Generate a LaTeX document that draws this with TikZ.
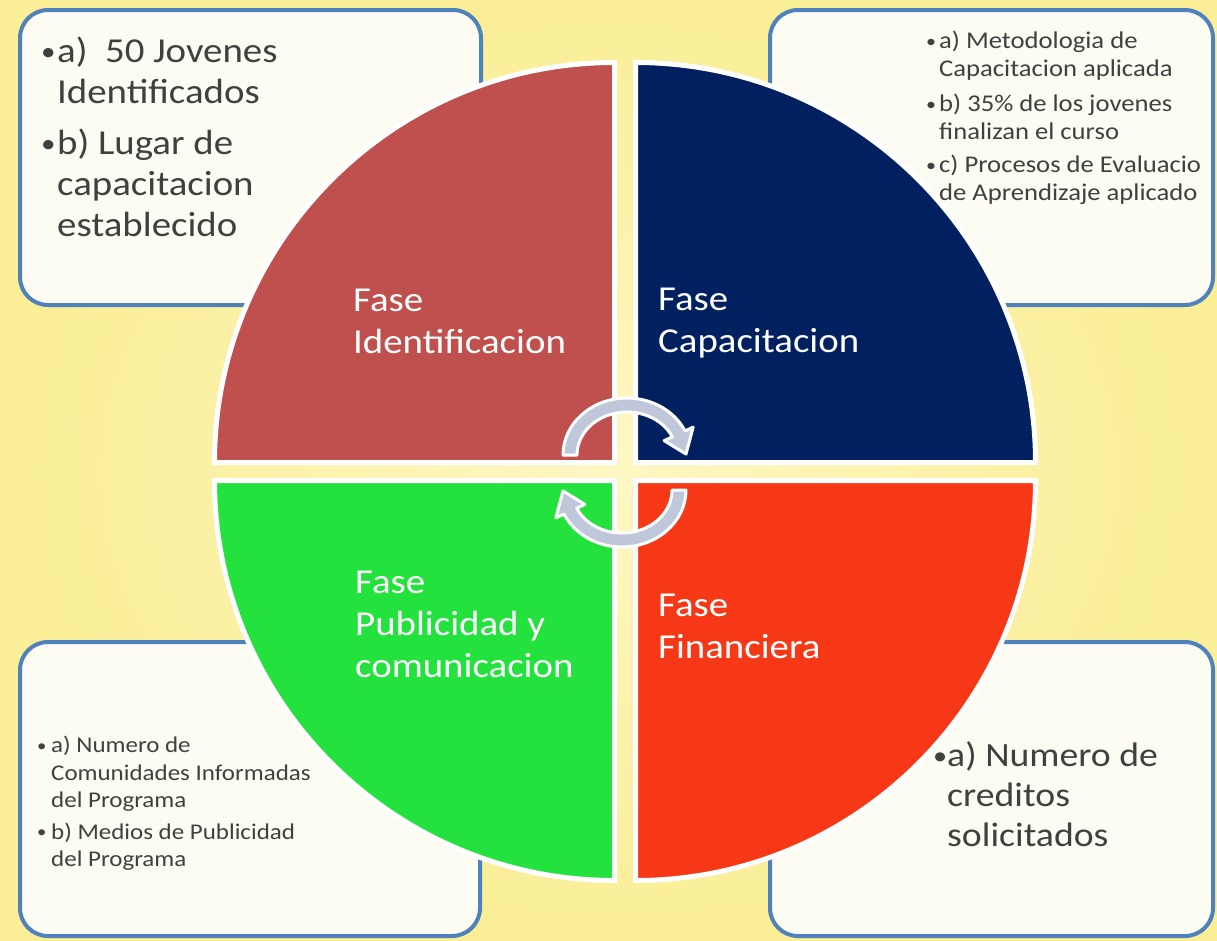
\documentclass[tikz,border=0pt]{standalone}
\usepackage{fontspec}
\setmainfont{Carlito}[FakeStretch=1.11]
\usetikzlibrary{calc}

\definecolor{fondo}{RGB}{250,238,150}
\definecolor{fondoclaro}{RGB}{254,247,195}
\definecolor{borde}{RGB}{79,129,189}
\definecolor{cajafondo}{RGB}{252,252,243}
\definecolor{texto}{RGB}{64,64,64}
\definecolor{rojo}{RGB}{192,80,77}
\definecolor{azul}{RGB}{0,32,96}
\definecolor{verde}{RGB}{36,226,62}
\definecolor{naranja}{RGB}{246,56,22}
\definecolor{flecha}{RGB}{190,200,218}

\newcommand{\bul}[1][14pt]{\makebox[#1][l]{\raisebox{0.06em}{\scalebox{0.75}{\textbullet}}}}
\newcommand{\sangria}[1][14pt]{\hspace*{#1}}
\newcommand{\grande}{\fontsize{35}{41}\selectfont}
\newcommand{\media}{\fontsize{34}{40}\selectfont}
\newcommand{\chica}{\fontsize{24}{27.5}\selectfont}
\newcommand{\menor}{\fontsize{22.5}{27.5}\selectfont}

\tikzset{
  caja/.style={draw=borde, line width=4pt, fill=cajafondo, rounded corners=28pt},
  fase/.style={draw=white, line width=5pt},
  lista/.style={anchor=north west, inner sep=0pt, align=left, text=texto},
  fasetxt/.style={anchor=north west, inner sep=0pt, align=left, text=white, font=\fontsize{35}{42}\selectfont},
  giro/.style={fill=flecha, draw=white, line width=3pt, line join=round}
}

\begin{document}
\begin{tikzpicture}[x=1pt,y=-1pt]
\shade[inner color=fondoclaro, outer color=fondo] (0,0) rectangle (1217,940);
\useasboundingbox (0,0) rectangle (1217,940);

\draw[caja] (20,10) rectangle (481,305);
\draw[caja] (770,10) rectangle (1213,305);
\draw[caja] (20,642) rectangle (480,936);
\draw[caja] (770,642) rectangle (1213,936);

\node[lista, font=\grande] (identif) at (41,37) {\bul[16pt]a)\ \ 50 Jovenes\\ \sangria[16pt]Identificados\\[10pt] \bul[16pt]b) Lugar de\\ \sangria[16pt]capacitacion\\ \sangria[16pt]establecido};
\node[lista, font=\chica] (capacit) at (926,31) {\bul[13pt]a) Metodologia de\\ \sangria[13pt]Capacitacion aplicada\\[8pt] \bul[13pt]b) 35\% de los jovenes\\ \sangria[13pt]finalizan el curso\\[6pt] \bul[13pt]c) Procesos de Evaluacio\\ \sangria[13pt]de Aprendizaje aplicado};
\node[lista, font=\menor] (publici) at (37,736) {\bul a) Numero de\\ \sangria Comunidades Informadas\\ \sangria del Programa\\[4pt] \bul b) Medios de Publicidad\\ \sangria del Programa};
\node[lista, font=\media] (financ) at (933,741) {\bul[14pt]a) Numero de\\ \sangria[14pt]creditos\\ \sangria[14pt]solicitados};

\coordinate (cRojo) at (614.5,462.5);
\coordinate (cAzul) at (635.5,462.5);
\coordinate (cVerde) at (614.5,480.5);
\coordinate (cNaranja) at (635.5,480.5);

\filldraw[fase, fill=rojo] (cRojo) -- ++(-400,0) arc[start angle=180, end angle=270, radius=400] -- cycle;
\filldraw[fase, fill=azul] (cAzul) -- ++(0,-400) arc[start angle=270, end angle=360, radius=400] -- cycle;
\filldraw[fase, fill=verde] (cVerde) -- ++(-400,0) arc[start angle=180, end angle=90, radius=400] -- cycle;
\filldraw[fase, fill=naranja] (cNaranja) -- ++(400,0) arc[start angle=0, end angle=90, radius=400] -- cycle;

\node[fasetxt] (fRojo) at (353,289) {Fase\\Identificacion};
\node[fasetxt] (fAzul) at (658,288) {Fase\\Capacitacion};
\node[fasetxt] (fVerde) at (355,571) {Fase\\Publicidad y\\comunicacion};
\node[fasetxt] (fNaranja) at (658,594) {Fase\\Financiera};

\coordinate (ca) at (627,455);
\coordinate (cb) at (622,490);
\draw[giro] ($(ca)+(180:64 and 57)$) arc[start angle=180, end angle=335, x radius=64, y radius=57]
  -- ($(ca)+(335:73 and 66)$) -- ($(ca)+(359:59 and 51)$) -- ($(ca)+(335:41 and 34)$) -- ($(ca)+(335:50 and 43)$)
  arc[start angle=335, end angle=180, x radius=50, y radius=43] -- cycle;
\draw[giro] ($(cb)+(0:64 and 57)$) arc[start angle=0, end angle=155, x radius=64, y radius=57]
  -- ($(cb)+(155:73 and 66)$) -- ($(cb)+(179:59 and 51)$) -- ($(cb)+(155:41 and 34)$) -- ($(cb)+(155:50 and 43)$)
  arc[start angle=155, end angle=0, x radius=50, y radius=43] -- cycle;
\end{tikzpicture}
\end{document}
